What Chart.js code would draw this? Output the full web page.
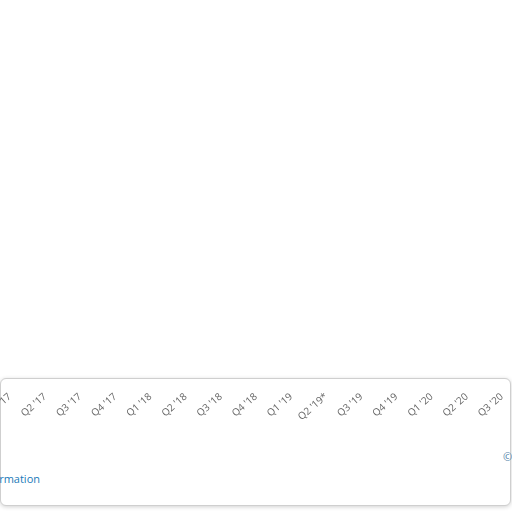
<!DOCTYPE html>
<html>
<head>
<meta charset="utf-8">
<script src="https://cdn.jsdelivr.net/npm/chart.js@4.4.0/dist/chart.umd.min.js"></script>
<style>
  html, body { margin: 0; padding: 0; background: #fff; width: 512px; height: 512px; overflow: hidden; }
  #box {
    position: absolute; left: 0; top: 378px; width: 509px; height: 126px;
    border: 1px solid #cfcfcf; border-radius: 6px;
    box-shadow: 0 1px 4px rgba(0,0,0,0.18);
    background: #fff;
  }
  #wrap { position: absolute; left: -40px; top: 0; width: 592px; height: 425px; }
  #info {
    position: absolute; left: -76px; top: 471px; white-space: nowrap;
    font-family: "Open Sans", sans-serif; font-size: 11px; color: #1a7ab8;
  }
  #copy {
    position: absolute; left: 503px; top: 449px; white-space: nowrap;
    font-family: "Open Sans", sans-serif; font-size: 11px; color: #4f7fa8;
  }
</style>
</head>
<body>
<div id="box"></div>
<div id="info">Additional Information</div>
<div id="copy">© Statista</div>
<div id="wrap"><canvas id="myChart"></canvas></div>
<script>
// quarters along the x axis
const quarters = [
    "Q1 '17", "Q2 '17", "Q3 '17", "Q4 '17",
    "Q1 '18", "Q2 '18", "Q3 '18", "Q4 '18",
    "Q1 '19", "Q2 '19*", "Q3 '19", "Q4 '19",
    "Q1 '20", "Q2 '20", "Q3 '20"
];

// no marks are visible in this crop of the chart, so the series stays empty
const values = [];

const config = {
    type: 'line',
    data: {
        labels: quarters,
        datasets: [{
            label: 'Series',
            data: values,
            borderColor: '#0f5ea8',
            backgroundColor: '#0f5ea8'
        }]
    },
    options: {
        responsive: true,
        maintainAspectRatio: false,
        animation: false,
        layout: { padding: { left: 50, right: 50, top: 0, bottom: 0 } },
        plugins: {
            legend: { display: false },
            tooltip: { enabled: false }
        },
        scales: {
            x: {
                offset: false,
                grid: { display: false },
                border: { display: false },
                ticks: {
                    autoSkip: false,
                    minRotation: 41,
                    maxRotation: 41,
                    padding: 2,
                    color: '#666',
                    font: { family: 'Open Sans', size: 10 }
                }
            },
            y: { display: false, min: 0, max: 100 }
        }
    }
};

var ctx = document.getElementById('myChart').getContext('2d');
var myChart = new Chart(ctx, config);
</script>
</body>
</html>
